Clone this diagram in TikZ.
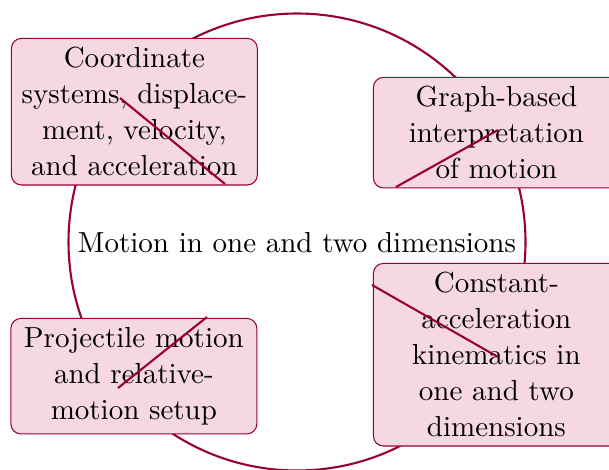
\documentclass[tikz,border=0pt]{standalone}
\definecolor{darkrose}{RGB}{153,0,51}
\definecolor{pinkfill}{RGB}{245,216,226}
\begin{document}
\begin{tikzpicture}[x=1pt,y=-1pt,
  txt/.style={scale=2.65,font=\fontsize{10.95}{13.6}\selectfont,align=center},
  topicbox/.style={txt,draw=darkrose,line width=1.06pt,fill=pinkfill,rounded corners=10pt,
    text width=85.4pt,minimum width=92.8pt,anchor=north west},
  ring/.style={draw=darkrose,line width=2.1pt},
  stroke/.style={draw=darkrose,line width=2.1pt}]
\useasboundingbox (0,0) rectangle (609,469);
\coordinate (c) at (297,242);
\draw[ring] (c) circle (228.5pt);
\node[txt] (title) at (297,243) {Motion in one and two dimensions};
\node[topicbox] (b1) at (10,37) {Coordinate\\systems, displace-\\ment, velocity,\\and acceleration};
\node[topicbox] (b2) at (372,76) {Graph-based\\interpretation\\of motion};
\node[topicbox] (b3) at (372,262) {Constant-\\acceleration\\kinematics in\\one and two\\dimensions};
\node[topicbox] (b4) at (9.5,317) {Projectile motion\\and relative-\\motion setup};
\coordinate (l1a) at (120,98);  \coordinate (l1b) at (225,184);
\coordinate (l2a) at (396,187); \coordinate (l2b) at (498,130);
\coordinate (l3a) at (372,285); \coordinate (l3b) at (498,357);
\coordinate (l4a) at (118,388); \coordinate (l4b) at (207,317);
\draw[stroke] (l1a) -- (l1b);
\draw[stroke] (l2a) -- (l2b);
\draw[stroke] (l3a) -- (l3b);
\draw[stroke] (l4a) -- (l4b);
\end{tikzpicture}
\end{document}
